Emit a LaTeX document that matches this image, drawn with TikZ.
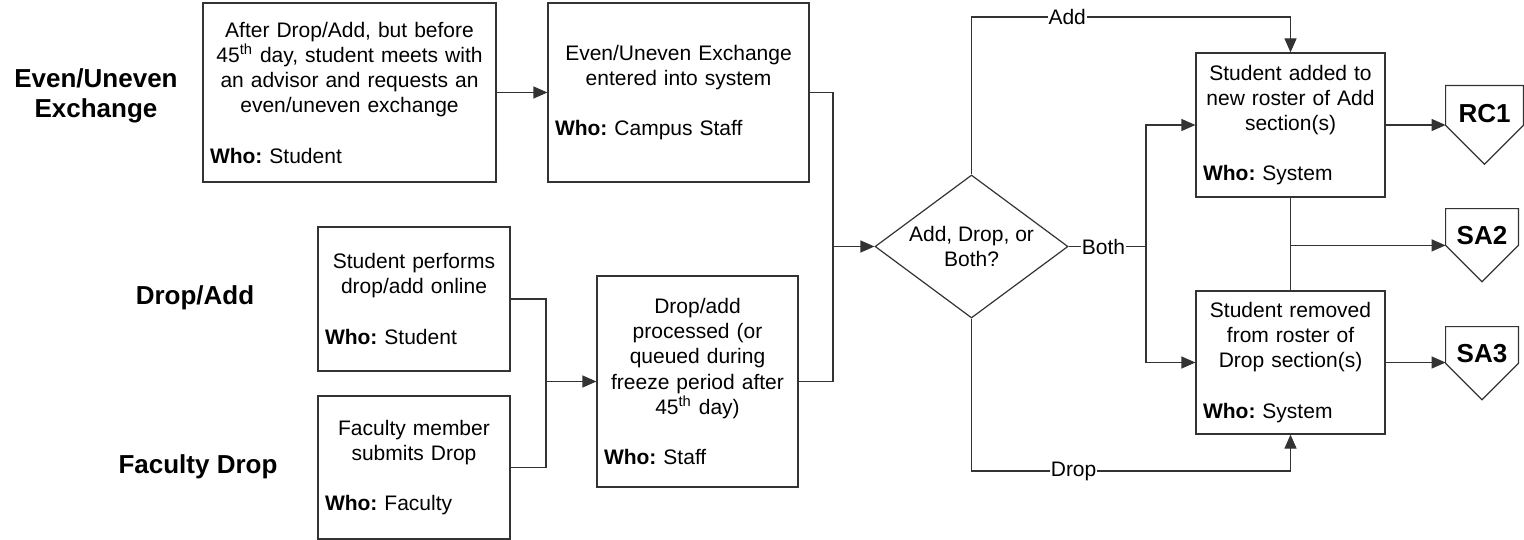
\documentclass[tikz,border=0pt]{standalone}
\usepackage{fontspec}
\setmainfont{Liberation Sans}
\usetikzlibrary{calc}
\usetikzlibrary{arrows.meta}
\usetikzlibrary{shapes.geometric}
\usetikzlibrary{positioning}

\newcommand{\who}[1]{\par\vspace{12.6pt}{\raggedright\textbf{Who:}\ #1\par}}

\begin{document}
\begin{tikzpicture}[x=0.5pt,y=-0.5pt,
		line/.style={draw=black!80,line width=0.6pt},
		flow/.style={line,-{Triangle[length=7pt,width=6pt]}},
		proc/.style={line,rectangle,inner xsep=3.5pt,inner ysep=0pt,align=center,font=\fontsize{10.5}{12.6}\selectfont},
		decision/.style={line,diamond,aspect=1.35,inner sep=0pt,minimum width=96.5pt,minimum height=71.5pt,align=center,font=\fontsize{10.5}{12.6}\selectfont},
		lane/.style={align=center,font=\bfseries\fontsize{13}{15}\selectfont},
		tag/.style={fill=white,inner sep=0.5pt,font=\fontsize{10.5}{12.6}\selectfont},
		offpage/.style={inner sep=0pt,text height=17pt,text depth=0pt,font=\bfseries\fontsize{13}{15}\selectfont}
	]
		\useasboundingbox (0,0) rectangle (1524,540);
		\node[lane] (lexchange) at (96,96) {Even/Uneven\\Exchange};
		\node[lane] (ldropadd) at (195,298) {Drop/Add};
		\node[lane] (lfaculty) at (198,467) {Faculty Drop};
		\node[proc,text width=139.5pt,minimum height=89.5pt] (request) at (349.5,92.5) {After Drop/Add, but before\\45\textsuperscript{th} day, student meets with\\an advisor and requests an\\even/uneven exchange\who{Student}};
		\node[proc,text width=123.5pt,minimum height=89.5pt] (entered) at (678.5,92.5) {Even/Uneven Exchange\\entered into system\who{Campus Staff}};
		\node[proc,text width=89pt,minimum height=72pt] (online) at (414,299) {Student performs\\drop/add online\who{Student}};
		\node[proc,text width=89pt,minimum height=71.5pt] (faculty) at (414,467.5) {Faculty member\\submits Drop\who{Faculty}};
		\node[proc,text width=93.5pt,minimum height=105.5pt] (processed) at (697.5,381.5) {Drop/add\\processed (or\\queued during\\freeze period after\\45\textsuperscript{th} day)\who{Staff}};
		\node[decision] (choice) at (971.5,246.5) {Add, Drop, or\\Both?};
		\node[proc,text width=87.5pt,minimum height=72pt] (added) at (1290.5,125) {Student added to\\new roster of Add\\section(s)\who{System}};
		\node[proc,text width=87.5pt,minimum height=71.5pt] (removed) at (1290.5,362.5) {Student removed\\from roster of\\Drop section(s)\who{System}};
		\node[offpage,minimum width=38.5pt,minimum height=19.5pt] (rc1) at (1484.5,105.5) {RC1};
		\node[offpage,minimum width=36pt,minimum height=18pt] (sa2) at (1482,227) {SA2};
		\node[offpage,minimum width=36pt,minimum height=18pt] (sa3) at (1482,345) {SA3};
		\foreach \n in {rc1,sa2,sa3}
			\draw[line] (\n.south west) -- (\n.north west) -- (\n.north east) -- (\n.south east) -- ($(\n.south)!1!-90:(\n.south east)$) -- cycle;
		\coordinate (join) at (546,381.5);
		\coordinate (merge) at (833,246.5);
		\coordinate (split) at (1146,246.5);
		\coordinate (addtop) at (1290.5,17);
		\coordinate (dropbot) at (1290.5,471);
		\draw[flow] (request.east) -- (entered.west);
		\draw[line] (online.east) -| (join);
		\draw[line] (faculty.east) -| (join);
		\draw[flow] (join) -- (processed.west);
		\draw[line] (entered.east) -| (merge);
		\draw[line] (processed.east) -| (merge);
		\draw[flow] (merge) -- (choice.west);
		\draw[flow] (choice.north) |- node[tag,pos=0.65] {Add} (addtop) -- (added.north);
		\draw[flow] (choice.south) |- node[tag,pos=0.66] {Drop} (dropbot) -- (removed.south);
		\draw[line] (choice.east) -- node[tag,pos=0.45] {Both} (split);
		\draw[flow] (split) |- (added.west);
		\draw[flow] (split) |- (removed.west);
		\draw[flow] (added.east) -- (added.east -| rc1.west);
		\draw[line] (added.south) -- (removed.north);
		\draw[flow] (added.south |- sa2.south west) -- (sa2.south west);
		\draw[flow] (removed.east) -- (removed.east -| sa3.west);
	\end{tikzpicture}
\end{document}
